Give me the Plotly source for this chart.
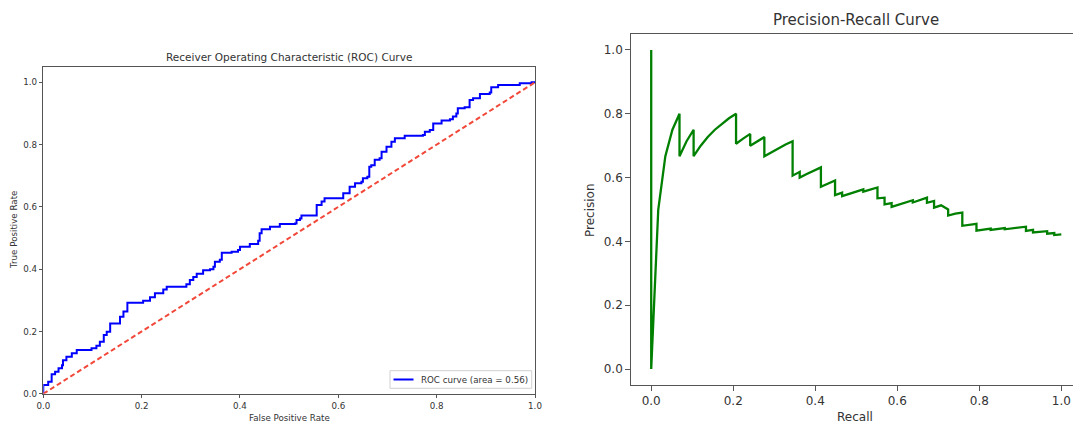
import plotly.graph_objects as go

# ---------------- data ----------------
roc_fpr = [0.0, 0.0, 0.010, 0.017, 0.024, 0.031, 0.038, 0.040, 0.047, 0.058, 0.068,
           0.098, 0.108, 0.115, 0.123, 0.129, 0.136, 0.156, 0.163, 0.171,
           0.203, 0.217, 0.227, 0.244, 0.251, 0.291, 0.298, 0.305, 0.312, 0.325,
           0.339, 0.346, 0.349, 0.359, 0.363, 0.383, 0.396, 0.400, 0.420, 0.437,
           0.440, 0.444, 0.461, 0.481, 0.512, 0.515, 0.522, 0.525, 0.556, 0.566,
           0.572, 0.610, 0.623, 0.634, 0.647, 0.650, 0.659, 0.663, 0.667, 0.674,
           0.684, 0.688, 0.698, 0.708, 0.715, 0.735, 0.772, 0.776, 0.786, 0.793,
           0.810, 0.827, 0.833, 0.840, 0.843, 0.857, 0.867, 0.874, 0.888, 0.908,
           0.911, 0.925, 0.969, 0.993, 1.0]
roc_tpr = [0.0, 0.028, 0.039, 0.063, 0.071, 0.082, 0.092, 0.108, 0.119, 0.130, 0.141,
           0.146, 0.154, 0.167, 0.189, 0.199, 0.226, 0.247, 0.264, 0.292,
           0.299, 0.310, 0.323, 0.335, 0.344, 0.352, 0.365, 0.375, 0.385, 0.397,
           0.400, 0.408, 0.424, 0.430, 0.453, 0.456, 0.462, 0.472, 0.481, 0.491,
           0.515, 0.528, 0.536, 0.545, 0.547, 0.558, 0.563, 0.572, 0.606, 0.617,
           0.628, 0.644, 0.665, 0.676, 0.681, 0.692, 0.697, 0.729, 0.734, 0.751,
           0.756, 0.777, 0.793, 0.809, 0.820, 0.828, 0.831, 0.841, 0.847, 0.868,
           0.877, 0.881, 0.890, 0.900, 0.917, 0.920, 0.943, 0.949, 0.962, 0.967,
           0.984, 0.991, 0.997, 1.0, 1.0]
roc_auc = 0.56
chance_x = [0.0, 1.0]
chance_y = [0.0, 1.0]

pr_recall = [0.0, 0.0, 0.0172, 0.0345, 0.0517, 0.069, 0.069, 0.0862, 0.1034, 0.1034,
             0.1207, 0.1379, 0.1552, 0.1724, 0.1897, 0.2069, 0.2069, 0.2241, 0.2414, 0.2414,
             0.2586, 0.2759, 0.2759, 0.2931, 0.3103, 0.3276, 0.3448, 0.3448, 0.3621, 0.3621,
             0.3793, 0.3966, 0.4138, 0.4138, 0.431, 0.4483, 0.4483, 0.4655, 0.4655, 0.4828,
             0.5, 0.5172, 0.5172, 0.5345, 0.5517, 0.5517, 0.569, 0.569, 0.5862, 0.5862,
             0.6034, 0.6207, 0.6379, 0.6379, 0.6552, 0.6724, 0.6724, 0.6897, 0.6897, 0.7069,
             0.7241, 0.7241, 0.7414, 0.7586, 0.7586, 0.7759, 0.7931, 0.7931, 0.8103, 0.8276,
             0.8276, 0.8448, 0.8621, 0.8621, 0.8793, 0.8966, 0.9138, 0.9138, 0.931, 0.931,
             0.9483, 0.9655, 0.9655, 0.9828, 0.9828, 1.0]
pr_precision = [1.0, 0.0, 0.5, 0.667, 0.75, 0.8, 0.667, 0.714, 0.75, 0.667,
                0.7, 0.727, 0.75, 0.769, 0.786, 0.8, 0.706, 0.722, 0.737, 0.70,
                0.714, 0.727, 0.667, 0.68, 0.692, 0.704, 0.714, 0.606, 0.618, 0.60,
                0.611, 0.622, 0.632, 0.571, 0.581, 0.591, 0.545, 0.553, 0.542, 0.549,
                0.556, 0.563, 0.556, 0.563, 0.569, 0.535, 0.537, 0.516, 0.52, 0.508,
                0.515, 0.522, 0.529, 0.522, 0.529, 0.537, 0.521, 0.527, 0.506, 0.513,
                0.5, 0.481, 0.487, 0.49, 0.449, 0.452, 0.455, 0.434, 0.437, 0.44,
                0.436, 0.44, 0.442, 0.438, 0.44, 0.443, 0.446, 0.433, 0.436, 0.428,
                0.43, 0.432, 0.424, 0.426, 0.42, 0.422]

ticks = [0.0, 0.2, 0.4, 0.6, 0.8, 1.0]

# ---------------- figure ----------------
W, H = 1073, 426
def px_x(p):
    return p / W
def px_y(p):
    return 1 - p / H

ROC_COLOR = "#0000ff"
fig = go.Figure()

fig.add_trace(go.Scatter(
    x=roc_fpr, y=roc_tpr, mode="lines", line_shape="hv",
    line=dict(color=ROC_COLOR, width=2),
    name=f"ROC curve (area = {roc_auc:.2f})",
    xaxis="x", yaxis="y", showlegend=False))
fig.add_trace(go.Scatter(
    x=chance_x, y=chance_y, mode="lines",
    line=dict(color="#f2483a", width=2, dash="5px,3px"),
    xaxis="x", yaxis="y", showlegend=False))
fig.add_trace(go.Scatter(
    x=pr_recall, y=pr_precision, mode="lines",
    line=dict(color="#008000", width=2.3),
    xaxis="x2", yaxis="y2", showlegend=False))

axis_common = dict(showgrid=False, zeroline=False, showline=True, automargin=False,
                   linecolor="#555555", linewidth=1, ticks="outside",
                   tickcolor="#555555", tickwidth=1, tickvals=ticks,
                   tickformat=".1f")

fig.update_layout(
    width=W, height=H,
    margin=dict(l=0, r=0, t=0, b=0, autoexpand=False),
    paper_bgcolor="white", plot_bgcolor="white",
    font=dict(family="DejaVu Sans", color="#333333"),
    xaxis=dict(**axis_common, domain=[px_x(43.3), px_x(535)], range=[0, 1],
               mirror=True, ticklen=3.5, tickfont=dict(size=8.7), anchor="y"),
    yaxis=dict(**axis_common, domain=[1 - 393.8 / H, 1 - 66.7 / H], range=[0, 1.05],
               mirror=True, ticklen=3.5, tickfont=dict(size=8.7), anchor="x"),
    xaxis2=dict(**axis_common, domain=[px_x(630.7), 1.0], range=[-0.05, 1.0285],
                mirror=True, ticklen=4.5, tickfont=dict(size=12), anchor="y2"),
    yaxis2=dict(**axis_common, domain=[1 - 385 / H, 1 - 34 / H], range=[-0.05, 1.05],
                mirror=False, ticklen=4.5, tickfont=dict(size=12), anchor="x2"),
    showlegend=False,
)

# legend box (drawn like matplotlib's lower-right legend)
fig.add_shape(type="rect", xref="paper", yref="paper",
              x0=px_x(390), x1=px_x(531.7), y0=px_y(388.3), y1=px_y(370.7),
              line=dict(color="#d0d0d0", width=1), fillcolor="rgba(255,255,255,0.85)",
              layer="above")
fig.add_shape(type="line", xref="paper", yref="paper",
              x0=px_x(393.5), x1=px_x(413.5), y0=px_y(379.5), y1=px_y(379.5),
              line=dict(color=ROC_COLOR, width=2), layer="above")

annots = [
    dict(text=f"ROC curve (area = {roc_auc:.2f})", x=px_x(418.5), y=px_y(379.5),
         font=dict(size=8.7), xanchor="left"),
    dict(text="Receiver Operating Characteristic (ROC) Curve", x=px_x(289), y=px_y(56.7),
         font=dict(size=10.5)),
    dict(text="False Positive Rate", x=px_x(289), y=px_y(417.5), font=dict(size=8.7)),
    dict(text="True Positive Rate", x=px_x(14), y=px_y(230), font=dict(size=8.7), textangle=-90),
    dict(text="Precision-Recall Curve", x=px_x(856), y=px_y(20.5), font=dict(size=15)),
    dict(text="Recall", x=px_x(855), y=px_y(417), font=dict(size=12)),
    dict(text="Precision", x=px_x(590), y=px_y(210), font=dict(size=12), textangle=-90),
]
for a in annots:
    a.setdefault("xanchor", "center")
    fig.add_annotation(xref="paper", yref="paper", showarrow=False,
                       yanchor="middle", **a)

fig.write_html(
    "out.html",
    config={"displayModeBar": False},
    post_script="document.body.style.margin='0';document.body.style.overflow='hidden';",
)
